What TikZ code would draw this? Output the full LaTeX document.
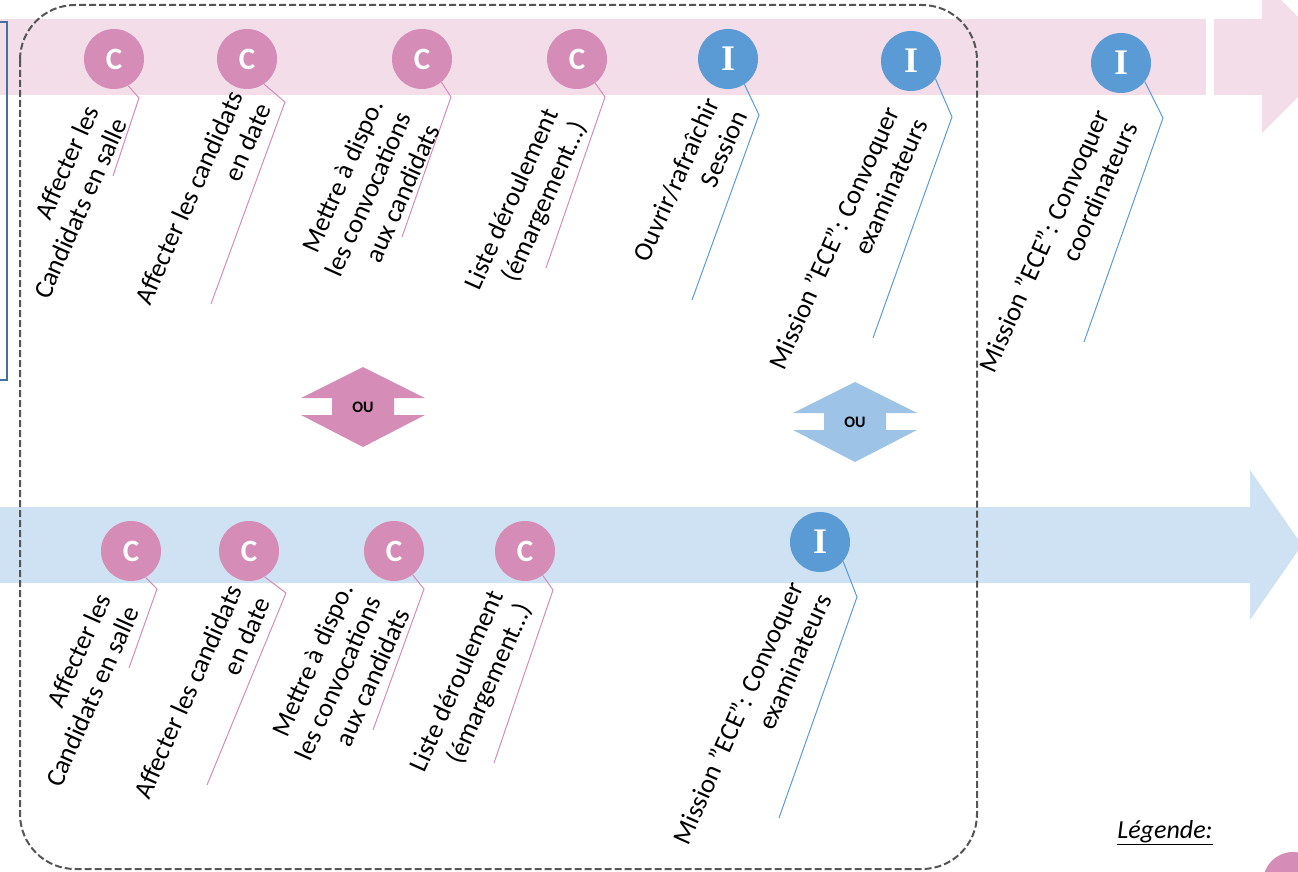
\documentclass[tikz,border=0pt]{standalone}
\usepackage{fontspec}
\setmainfont{Carlito}
\newfontfamily\serifI{Liberation Serif}
\definecolor{rose}{HTML}{D58CB7}
\definecolor{rosepale}{HTML}{F2DDE9}
\definecolor{bleu}{HTML}{5B9BD5}
\definecolor{bleupale}{HTML}{CFE2F3}
\definecolor{bleuou}{HTML}{9DC3E6}
\definecolor{cadre}{HTML}{41719C}
\definecolor{tirets}{HTML}{555555}
\tikzset{
  pastille/.style={circle, minimum size=60pt, inner sep=0pt, text=white},
  pastC/.style={pastille, fill=rose, font=\fontsize{31}{31}\selectfont\bfseries},
  pastI/.style={pastille, fill=bleu, font=\fontsize{36}{36}\selectfont\serifI\bfseries},
  etiq/.style={rotate=66, align=right, inner sep=0pt, font=\fontsize{26.5}{31}\selectfont},
  traitC/.style={rose, line width=1pt},
  traitI/.style={bleu, line width=1pt},
  ou/.style={font=\fontsize{16}{16}\selectfont\bfseries, inner sep=0pt}
}
% double fleche verticale "OU"
\newcommand{\doublefleche}[2]{%
  \fill[#1, shift={#2}] (0,-40) -- (62,-9) -- (31,-9) -- (31,8) -- (62,8) -- (0,40)
    -- (-62,8) -- (-31,8) -- (-31,-9) -- (-62,-9) -- cycle;}
\begin{document}
\begin{tikzpicture}[x=1pt, y=-1pt]
\useasboundingbox (0,0) rectangle (1298,872);
\clip (0,0) rectangle (1298,872);
% bandes
\fill[rosepale] (0,19) rectangle (1206,95);
\fill[rosepale] (1214,19) -- (1262,19) -- (1262,-19) -- (1338,57) -- (1262,133) -- (1262,95) -- (1214,95) -- cycle;
\fill[bleupale] (0,507) -- (1250,507) -- (1250,470) -- (1302,545) -- (1250,620) -- (1250,583) -- (0,583) -- cycle;
\draw[cadre, line width=2.5pt] (-10,22) rectangle (7,380);
\draw[tirets, line width=2pt, dash pattern=on 7pt off 3pt, rounded corners=55pt] (20,5) rectangle (977,869);

% ligne du haut
\node[pastC] (h1) at (114,59) {C};
\node[pastC] (h2) at (247,59) {C};
\node[pastC] (h3) at (422,59) {C};
\node[pastC] (h4) at (577,59) {C};
\node[pastI] (h5) at (728,59) {I};
\node[pastI] (h6) at (911,61) {I};
\node[pastI] (h7) at (1121,63) {I};

\coordinate (kh1) at (139,98);  \coordinate (eh1) at (113,176);
\coordinate (kh2) at (285,102); \coordinate (eh2) at (211,304);
\coordinate (kh3) at (451,97);  \coordinate (eh3) at (402,237);
\coordinate (kh4) at (605,97);  \coordinate (eh4) at (546,268);
\coordinate (kh5) at (759,115); \coordinate (eh5) at (692,300);
\coordinate (kh6) at (952,117); \coordinate (eh6) at (873,338);
\coordinate (kh7) at (1163,118); \coordinate (eh7) at (1084,342);
\draw[traitC] (h1.-62) -- (kh1) -- (eh1);
\draw[traitC] (h2.-56) -- (kh2) -- (eh2);
\draw[traitC] (h3.-50) -- (kh3) -- (eh3);
\draw[traitC] (h4.-53) -- (kh4) -- (eh4);
\draw[traitI] (h5.-57) -- (kh5) -- (eh5);
\draw[traitI] (h6.-36) -- (kh6) -- (eh6);
\draw[traitI] (h7.-38) -- (kh7) -- (eh7);

\node[etiq] (th1) at (66,202) {Affecter les\\Candidats en salle};
\node[etiq] (th2) at (203,204) {Affecter les candidats\\en date};
\node[etiq] (th3) at (368,194) {Mettre à dispo.\\les convocations\\aux candidats};
\node[etiq] (th4) at (527,206) {Liste déroulement\\(émargement…)};
\node[etiq] (th5) at (690,186) {Ouvrir/rafraîchir\\Session};
\node[etiq] (th6) at (848,244) {Mission "ECE": Convoquer\\examinateurs};
\node[etiq] (th7) at (1058,247) {Mission "ECE": Convoquer\\coordinateurs};

% ou
\doublefleche{rose}{(363,407)}
\node[ou] (ou1) at (363,407) {OU};
\doublefleche{bleuou}{(855,422)}
\node[ou] (ou2) at (855,422) {OU};

% ligne du bas
\node[pastC] (b1) at (131,551) {C};
\node[pastC] (b2) at (249,551) {C};
\node[pastC] (b3) at (394,551) {C};
\node[pastC] (b4) at (525,551) {C};
\node[pastI] (b5) at (820,542) {I};

\coordinate (kb1) at (157,589); \coordinate (eb1) at (129,668);
\coordinate (kb2) at (286,593); \coordinate (eb2) at (207,785);
\coordinate (kb3) at (424,589); \coordinate (eb3) at (373,730);
\coordinate (kb4) at (553,590); \coordinate (eb4) at (494,763);
\coordinate (kb5) at (857,597); \coordinate (eb5) at (779,818);
\draw[traitC] (b1.-61) -- (kb1) -- (eb1);
\draw[traitC] (b2.-59) -- (kb2) -- (eb2);
\draw[traitC] (b3.-52) -- (kb3) -- (eb3);
\draw[traitC] (b4.-54) -- (kb4) -- (eb4);
\draw[traitI] (b5.-40) -- (kb5) -- (eb5);

\node[etiq] (tb1) at (78,690) {Affecter les\\Candidats en salle};
\node[etiq] (tb2) at (202,698) {Affecter les candidats\\en date};
\node[etiq] (tb3) at (338,678) {Mettre à dispo.\\les convocations\\aux candidats};
\node[etiq] (tb4) at (472,688) {Liste déroulement\\(émargement…)};
\node[etiq] (tb5) at (752,719) {Mission "ECE": Convoquer\\examinateurs};

% legende
\node[font=\fontsize{26}{26}\selectfont\itshape] (leg) at (1165,833) {\underline{Légende:}};
\node[pastC] (legc) at (1293,882) {};
\end{tikzpicture}
\end{document}
